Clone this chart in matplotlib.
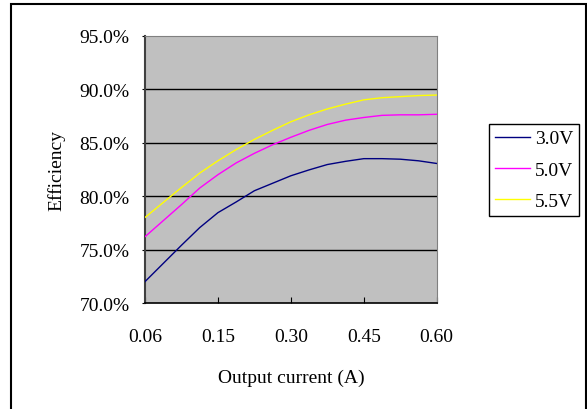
import matplotlib.pyplot as plt
from matplotlib.patches import Rectangle

# -------------------------------
# Data (category axis, 17 points, label every 4th)
x_pos = [0, 0.25, 0.5, 0.75, 1, 1.25, 1.5, 1.75, 2,
         2.25, 2.5, 2.75, 3, 3.25, 3.5, 3.75, 4]
tick_pos = [0, 1, 2, 3, 4]
tick_labels = ['0.06', '0.15', '0.30', '0.45', '0.60']

eff_30 = [72.0, 73.7, 75.4, 77.05, 78.45, 79.45, 80.5, 81.2, 81.9,
          82.45, 82.95, 83.25, 83.5, 83.5, 83.45, 83.3, 83.05]
eff_50 = [76.2, 77.7, 79.2, 80.75, 82.0, 83.1, 84.0, 84.8, 85.5,
          86.15, 86.7, 87.1, 87.35, 87.55, 87.6, 87.6, 87.65]
eff_55 = [78.0, 79.4, 80.8, 82.15, 83.3, 84.35, 85.3, 86.15, 86.95,
          87.6, 88.15, 88.6, 89.0, 89.2, 89.3, 89.4, 89.45]

y_ticks = [70, 75, 80, 85, 90, 95]

plt.rcParams['font.family'] = ['Liberation Serif', 'DejaVu Serif']
fs = 14

fig = plt.figure(figsize=(5.87, 4.10), dpi=100)
ax = fig.add_axes([0.247, 0.2585, 0.497, 0.652])
ax.set_facecolor('#c0c0c0')

# outer chart frame (bottom edge is cut off in the original)
fig.patches.append(Rectangle((11/587, -0.1), 575/587, 1 - 5/410 + 0.1,
                             transform=fig.transFigure, fill=False,
                             ec='black', lw=1.5))

for y in y_ticks[1:-1]:
    ax.axhline(y, color='black', lw=1.0, zorder=1)

ax.plot(x_pos, eff_30, color='#000080', lw=1.0, label='3.0V', zorder=3)
ax.plot(x_pos, eff_50, color='#ff00ff', lw=1.0, label='5.0V', zorder=3)
ax.plot(x_pos, eff_55, color='#ffff00', lw=1.0, label='5.5V', zorder=3)

ax.set_xlim(0, 4)
ax.set_ylim(70, 95)
ax.set_xticks(tick_pos)
ax.set_xticklabels(tick_labels, fontsize=fs)
ax.set_yticks(y_ticks)
ax.set_yticklabels(['%.1f%%' % v for v in y_ticks], fontsize=fs)
ax.tick_params(axis='x', direction='in', length=4, pad=18, color='black')
ax.tick_params(axis='y', direction='out', length=2, pad=9, color='black')

ax.spines['left'].set_color('#404040')
ax.spines['left'].set_linewidth(1.5)
ax.spines['bottom'].set_color('black')
ax.spines['bottom'].set_linewidth(1.2)
ax.spines['top'].set_color('#808080')
ax.spines['right'].set_color('#808080')

ax.set_xlabel('Output current (A)', fontsize=fs, labelpad=17)
ax.set_ylabel('Efficiency', fontsize=fs, labelpad=10)

leg = ax.legend(loc='upper left', bbox_to_anchor=(489/587, 1 - 125/410),
                bbox_transform=fig.transFigure, borderaxespad=0,
                fontsize=fs, handlelength=1.8, handletextpad=0.25,
                labelspacing=0.7, borderpad=0.3, fancybox=False,
                framealpha=1, edgecolor='black')
leg.get_frame().set_linewidth(1.0)

plt.savefig('out.png', dpi=100)
